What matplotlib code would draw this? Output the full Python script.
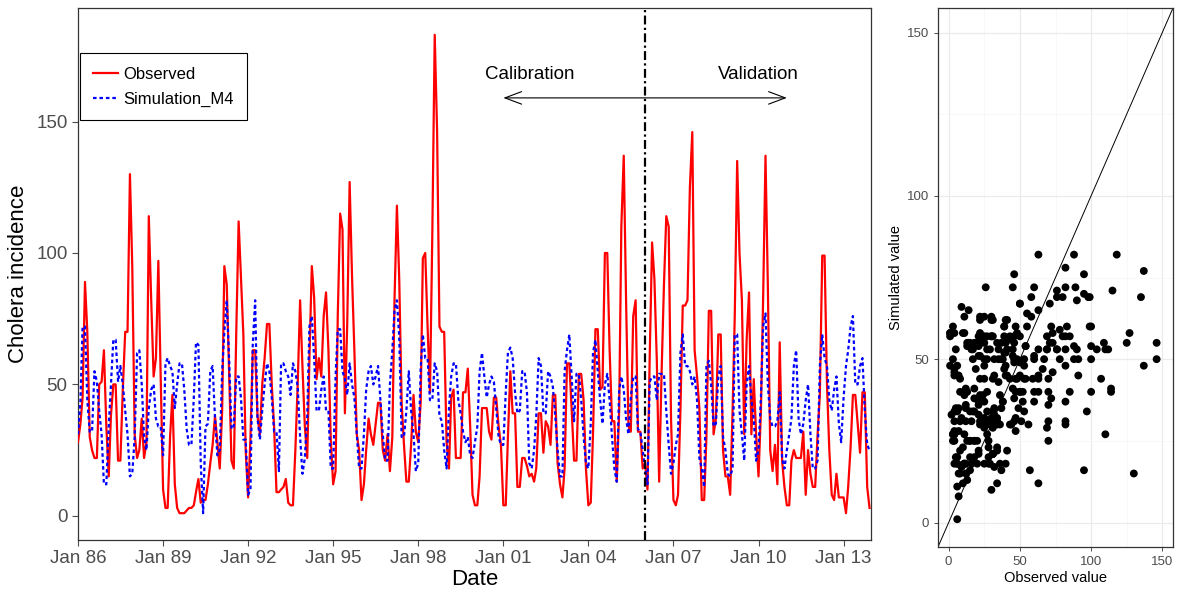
import numpy as np
import pandas as pd
import matplotlib
matplotlib.use("Agg")
import matplotlib.pyplot as plt
import matplotlib.dates as mdates

plt.rcParams['font.family'] = ['Liberation Sans', 'DejaVu Sans']

# ---------------- data (monthly, Jan 1986 - Dec 2013) ----------------
start_month = "1986-01-01"
observed = [
    28, 35, 45, 89, 70, 30, 25, 22, 22, 50, 51, 63,          # 1986
    34, 15, 38, 50, 50, 21, 21, 48, 70, 70, 130, 95,         # 1987
    31, 22, 25, 37, 22, 28, 114, 82, 53, 60, 97, 53,         # 1988
    10, 3, 3, 30, 46, 12, 3, 1, 1, 1, 2, 3,                  # 1989
    3, 4, 9, 14, 5, 6, 6, 12, 20, 27, 38, 28,                # 1990
    18, 40, 95, 88, 55, 21, 18, 69, 112, 91, 69, 25,         # 1991
    7, 30, 63, 63, 38, 31, 50, 60, 73, 73, 50, 34,           # 1992
    9, 9, 10, 11, 14, 5, 4, 4, 25, 50, 82, 57,               # 1993
    34, 22, 60, 95, 83, 52, 60, 53, 76, 85, 63, 29,          # 1994
    12, 17, 76, 115, 109, 39, 73, 127, 91, 63, 31, 25,       # 1995
    6, 12, 25, 37, 31, 27, 35, 43, 43, 25, 21, 31,           # 1996
    17, 30, 82, 118, 90, 43, 27, 13, 13, 27, 46, 32,         # 1997
    28, 43, 98, 100, 72, 47, 107, 183, 146, 72, 70, 70,      # 1998
    28, 18, 45, 48, 22, 22, 22, 47, 47, 56, 34, 8,           # 1999
    4, 4, 15, 41, 41, 41, 32, 29, 45, 45, 34, 27,            # 2000
    4, 4, 30, 55, 39, 39, 11, 11, 22, 22, 19, 15,            # 2001
    16, 13, 18, 39, 39, 24, 36, 34, 27, 46, 46, 20,          # 2002
    12, 7, 18, 58, 58, 40, 21, 21, 54, 54, 44, 18,           # 2003
    4, 5, 31, 71, 71, 48, 49, 100, 100, 63, 36, 36,          # 2004
    13, 40, 110, 137, 82, 34, 32, 76, 82, 32, 32, 18,        # 2005
    20, 10, 60, 104, 90, 59, 13, 54, 88, 114, 110, 37,       # 2006
    6, 4, 8, 40, 80, 80, 82, 125, 146, 63, 53, 41,           # 2007
    6, 6, 30, 78, 78, 31, 37, 69, 69, 25, 15, 15,            # 2008
    8, 40, 76, 135, 100, 82, 31, 67, 85, 31, 52, 31,         # 2009
    15, 40, 82, 137, 88, 25, 17, 27, 12, 66, 21, 11,         # 2010
    4, 4, 21, 25, 22, 22, 22, 32, 8, 25, 16, 11,             # 2011
    11, 31, 46, 99, 99, 50, 25, 8, 6, 16, 7, 7,              # 2012
    7, 1, 11, 26, 46, 46, 35, 24, 47, 47, 11, 3,             # 2013
]
simulated = [
    31, 43, 72, 72, 44, 32, 32, 55, 51, 40, 31, 12,          # 1986
    12, 34, 50, 67, 67, 51, 57, 50, 40, 31, 15, 16,          # 1987
    30, 62, 63, 50, 30, 25, 41, 48, 50, 37, 34, 34,          # 1988
    23, 58, 60, 57, 55, 41, 50, 58, 58, 48, 33, 27,          # 1989
    27, 45, 66, 65, 20, 1, 34, 35, 55, 57, 37, 23,           # 1990
    25, 55, 70, 82, 60, 33, 34, 53, 53, 45, 29, 29,          # 1991
    8, 10, 65, 82, 37, 29, 40, 50, 58, 55, 45, 32,           # 1992
    32, 17, 58, 58, 55, 53, 46, 58, 55, 49, 30, 16,          # 1993
    22, 38, 72, 76, 60, 40, 40, 48, 53, 40, 40, 18,          # 1994
    18, 53, 71, 71, 55, 52, 46, 58, 50, 45, 31, 18,          # 1995
    18, 31, 48, 55, 57, 50, 53, 57, 44, 31, 21, 21,          # 1996
    50, 63, 78, 82, 68, 30, 30, 40, 55, 40, 31, 17,          # 1997
    20, 56, 69, 60, 60, 44, 44, 58, 55, 38, 36, 25,          # 1998
    18, 41, 53, 58, 58, 44, 39, 32, 28, 30, 23, 22,          # 1999
    28, 34, 55, 62, 53, 45, 50, 53, 51, 41, 30, 27,          # 2000
    27, 47, 62, 64, 60, 47, 39, 40, 55, 55, 47, 20,          # 2001
    18, 25, 38, 60, 57, 39, 39, 55, 53, 49, 38, 25,          # 2002
    15, 15, 55, 63, 69, 52, 36, 54, 54, 44, 30, 20,          # 2003
    18, 35, 62, 67, 55, 44, 35, 50, 54, 44, 30, 18,          # 2004
    13, 48, 53, 48, 37, 31, 45, 53, 53, 33, 32, 25,          # 2005
    18, 12, 51, 53, 53, 44, 54, 54, 54, 40, 27, 16,          # 2006
    20, 27, 31, 62, 69, 57, 57, 55, 50, 53, 44, 22,          # 2007
    18, 11, 57, 59, 50, 34, 35, 53, 57, 30, 25, 16,          # 2008
    15, 18, 69, 69, 40, 31, 21, 50, 57, 44, 37, 21,          # 2009
    25, 45, 72, 77, 50, 37, 34, 34, 36, 47, 22, 18,          # 2010
    25, 31, 37, 57, 63, 37, 31, 35, 44, 50, 31, 18,          # 2011
    18, 21, 57, 69, 60, 57, 44, 40, 48, 53, 35, 28,          # 2012
    45, 57, 63, 72, 76, 50, 50, 57, 60, 40, 27, 25,          # 2013
]
y_ticks = [0, 50, 100, 150]
x_tick_years = list(range(1986, 2014, 3))
split_date = "2006-01-01"
labels = ["Observed", "Simulation_M4"]

dates = pd.date_range(start_month, periods=len(observed), freq="MS")
obs = np.array(observed, dtype=float)
sim = np.array(simulated, dtype=float)

# ---------------- figure ----------------
fig = plt.figure(figsize=(11.88, 5.93), dpi=100)
ax = fig.add_axes([78/1188, 1-540/593, (871-78)/1188, (540-8)/593])
ax2 = fig.add_axes([938/1188, 1-547/593, (1173-938)/1188, (547-8)/593])

tick_col = "#4D4D4D"

# --- time series ---
ax.plot(dates, obs, color="#FF0000", lw=1.6, label=labels[0], zorder=3)
ax.plot(dates, sim, color="#0000FF", lw=1.6, linestyle=(0, (1.6, 1.3)),
        label=labels[1], zorder=4)
ax.axvline(pd.Timestamp(split_date), color="black", lw=1.6,
           linestyle=(0, (4, 1.5, 1, 1.5)), zorder=5)

ax.set_xlim(pd.Timestamp("1986-01-01"), pd.Timestamp("2013-12-20"))
ax.set_ylim(-9.2, 193.2)
ax.set_yticks(y_ticks)
ax.set_xticks([pd.Timestamp(f"{y}-01-01") for y in x_tick_years])
ax.xaxis.set_major_formatter(mdates.DateFormatter("%b %y"))
ax.tick_params(axis="both", labelsize=13.5, colors=tick_col, length=4, width=0.8,
               labelcolor=tick_col)
for s in ax.spines.values():
    s.set_color("#333333")
    s.set_linewidth(0.9)
ax.set_xlabel("Date", fontsize=16, labelpad=1)
ax.set_ylabel("Cholera incidence", fontsize=16, labelpad=5)

# arrow and annotations
ax.annotate("", xy=(pd.Timestamp("2001-01-01"), 159), xytext=(pd.Timestamp("2011-01-01"), 159),
            arrowprops=dict(arrowstyle="<->,head_length=1.2,head_width=0.45", lw=0.8,
                            color="black", shrinkA=0, shrinkB=0), zorder=6)
ax.text(pd.Timestamp("2001-12-01"), 168, "Calibration", ha="center", va="center", fontsize=13.5)
ax.text(pd.Timestamp("2010-01-01"), 168, "Validation", ha="center", va="center", fontsize=13.5)

leg = ax.legend(loc="upper left", bbox_to_anchor=(0.002, 0.915), fontsize=12,
                frameon=True, fancybox=False, edgecolor="black", framealpha=1,
                handlelength=1.5, handletextpad=0.3, borderpad=0.8, labelspacing=0.6,
                borderaxespad=0)
leg.get_frame().set_linewidth(0.8)

# --- scatter ---
lims = (-7.5, 157.5)
ax2.set_xlim(lims)
ax2.set_ylim(lims)
ax2.set_xticks(y_ticks)
ax2.set_yticks(y_ticks)
ax2.set_xticks([25, 75, 125], minor=True)
ax2.set_yticks([25, 75, 125], minor=True)
ax2.grid(True, which="major", color="#EBEBEB", lw=0.9, zorder=0)
ax2.grid(True, which="minor", color="#F5F5F5", lw=0.5, zorder=0)
ax2.set_axisbelow(True)
ax2.plot(lims, lims, color="black", lw=0.7, zorder=2)
ax2.scatter(obs, sim, s=32, color="black", edgecolors="none", zorder=3, clip_on=True)
ax2.tick_params(axis="both", which="major", labelsize=9.5, colors=tick_col, length=3,
                width=0.7, labelcolor=tick_col)
ax2.tick_params(axis="both", which="minor", length=0)
for s in ax2.spines.values():
    s.set_color("#333333")
    s.set_linewidth(0.9)
ax2.set_xlabel("Observed value", fontsize=10.5, labelpad=2)
ax2.set_ylabel("Simulated value", fontsize=10.5, labelpad=3)

fig.savefig("out.png", dpi=100)
